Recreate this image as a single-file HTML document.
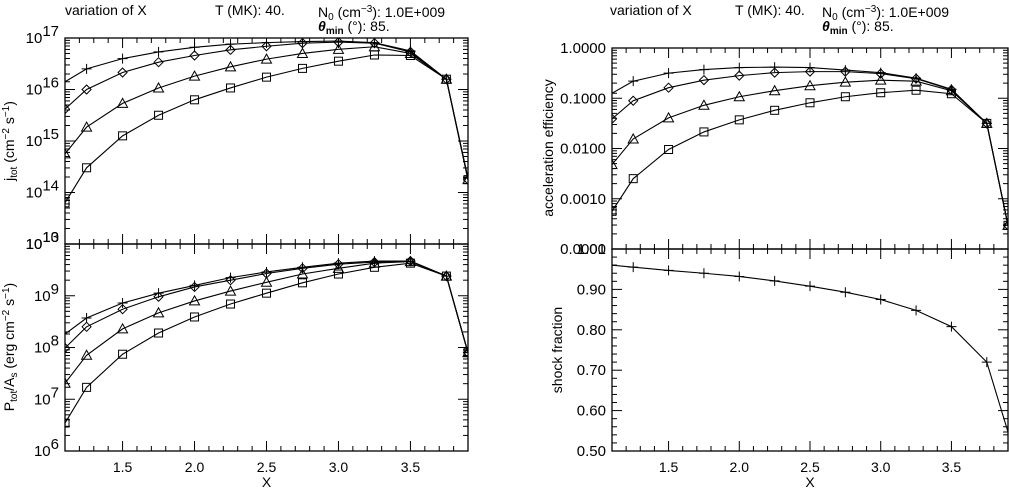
<!DOCTYPE html>
<html><head><meta charset="utf-8"><style>
html,body{margin:0;padding:0;background:#fff;}
svg{display:block;font-family:"Liberation Sans","DejaVu Sans",sans-serif;}
</style></head><body>
<svg id="c" width="1009" height="489" viewBox="0 0 1009 489" xmlns="http://www.w3.org/2000/svg"></svg>
<script>
const xVals=[1.1,1.25,1.5,1.75,2.0,2.25,2.5,2.75,3.0,3.25,3.5,3.75,3.9];
const xTicks=[1.5,2.0,2.5,3.0,3.5];
const markerKinds=['plus','diamond','triangle','square'];
// log10 values
const jPlus=[16.15,16.4,16.6,16.73,16.82,16.88,16.91,16.93,16.94,16.91,16.75,16.2,14.28];
const jDiamond=[15.62,16.0,16.33,16.53,16.66,16.77,16.84,16.9,16.92,16.9,16.73,16.2,14.25];
const jTriangle=[14.75,15.27,15.73,16.03,16.26,16.44,16.59,16.7,16.78,16.83,16.7,16.2,14.25];
const jSquare=[13.8,14.48,15.1,15.5,15.8,16.03,16.24,16.41,16.55,16.67,16.66,16.2,14.25];
const pPlus=[8.26,8.57,8.86,9.05,9.2,9.35,9.46,9.55,9.63,9.67,9.67,9.38,7.9];
const pDiamond=[7.99,8.4,8.74,8.98,9.17,9.3,9.43,9.53,9.61,9.65,9.67,9.38,7.9];
const pTriangle=[7.31,7.85,8.36,8.67,8.9,9.09,9.26,9.42,9.53,9.63,9.66,9.38,7.9];
const pSquare=[6.54,7.23,7.87,8.28,8.59,8.84,9.05,9.25,9.42,9.55,9.63,9.38,7.9];
const ePlus=[-0.9,-0.66,-0.5,-0.43,-0.39,-0.38,-0.39,-0.44,-0.49,-0.6,-0.82,-1.5,-3.53];
const eDiamond=[-1.41,-1.05,-0.79,-0.64,-0.55,-0.49,-0.47,-0.47,-0.51,-0.61,-0.83,-1.5,-3.53];
const eTriangle=[-2.32,-1.81,-1.39,-1.14,-0.97,-0.85,-0.75,-0.68,-0.64,-0.66,-0.85,-1.5,-3.53];
const eSquare=[-3.25,-2.6,-2.02,-1.67,-1.43,-1.24,-1.09,-0.97,-0.89,-0.84,-0.91,-1.5,-3.53];
const shock=[0.96,0.955,0.947,0.94,0.932,0.921,0.908,0.893,0.875,0.848,0.808,0.72,0.547];
const jTickLabels=['13','14','15','16','17'];
const pTickLabels=['6','7','8','9','10'];
const eTickLabels=['0.0001','0.0010','0.0100','0.1000','1.0000'];
const sTickLabels=['0.50','0.60','0.70','0.80','0.90','1.00'];

const NS='http://www.w3.org/2000/svg';
const svg=document.getElementById('c');
function el(t,a,p){const e=document.createElementNS(NS,t);for(const k in a)e.setAttribute(k,a[k]);(p||svg).appendChild(e);return e;}
function mk(x0,x1,y0,y1,lo,hi){return{x:v=>x0+(v-1.1)/(3.9-1.1)*(x1-x0),y:v=>y1-(v-lo)/(hi-lo)*(y1-y0),x0,x1,y0,y1,lo,hi};}

function frame(P,name,isLog,showX){
  const g=el('g',{});
  
  
  el('rect',{x:P.x0,y:P.y0,width:P.x1-P.x0,height:P.y1-P.y0,fill:'none',stroke:'#000','stroke-width':1.3},g);
  for(let v=1.1;v<=3.9001;v+=0.1){
    const vv=Math.round(v*10)/10;const maj=Math.abs(vv*2-Math.round(vv*2))<1e-6;
    const L=maj?10:5;const x=P.x(vv);
    el('line',{x1:x,x2:x,y1:P.y1,y2:P.y1-L,stroke:'#000'},g);
    el('line',{x1:x,x2:x,y1:P.y0,y2:P.y0+L,stroke:'#000'},g);
  }
  if(isLog){
    for(let d=P.lo;d<=P.hi;d++){
      for(let m=1;m<=9;m++){const v=d+Math.log10(m);if(v>P.hi+1e-9)break;const L=m==1?10:5;const y=P.y(v);
        el('line',{x1:P.x0,x2:P.x0+L,y1:y,y2:y,stroke:'#000'},g);
        el('line',{x1:P.x1,x2:P.x1-L,y1:y,y2:y,stroke:'#000'},g);}
    }
  } else {
    for(let v=0.5;v<=1.0001;v+=0.02){const vv=Math.round(v*100)/100;const maj=Math.abs(vv*10-Math.round(vv*10))<1e-6;const L=maj?10:5;const y=P.y(vv);
      el('line',{x1:P.x0,x2:P.x0+L,y1:y,y2:y,stroke:'#000'},g);
      el('line',{x1:P.x1,x2:P.x1-L,y1:y,y2:y,stroke:'#000'},g);}
  }
  if(showX){
    xTicks.forEach(t=>{const tx=el('text',{x:P.x(t),y:P.y1+21,'text-anchor':'middle','font-size':14},g);tx.textContent=t.toFixed(1);});
    const xl=el('text',{x:(P.x(2.5)),y:P.y1+36,'text-anchor':'middle','font-size':14},g);xl.textContent='X';
    
    
  }
}
function marker(g,kind,x,y){
  if(kind=='plus'){el('path',{d:`M${x-5},${y}h10M${x},${y-5}v10`,stroke:'#000',fill:'none'},g);}
  else if(kind=='diamond'){el('path',{d:`M${x},${y-4.5}L${x+4.5},${y}L${x},${y+4.5}L${x-4.5},${y}Z`,stroke:'#000',fill:'none'},g);}
  else if(kind=='triangle'){el('path',{d:`M${x},${y-5}L${x+5},${y+4}L${x-5},${y+4}Z`,stroke:'#000',fill:'none'},g);}
  else {el('rect',{x:x-4,y:y-4,width:8,height:8,stroke:'#000',fill:'none'},g);}
}
function series(P,vals,kind,name){
  const g=el('g',{});
  
  
  const cp='cp'+name;const clip=el('clipPath',{id:cp},g);el('rect',{x:P.x0,y:P.y0,width:P.x1-P.x0,height:P.y1-P.y0},clip);
  const inner=el('g',{'clip-path':`url(#${cp})`},g);
  el('polyline',{points:xVals.map((x,i)=>P.x(x)+','+P.y(vals[i])).join(' '),fill:'none',stroke:'#000','stroke-width':1.1},inner);
  xVals.forEach((x,i)=>marker(inner,kind,P.x(x),P.y(vals[i])));
}
function ylabLog(P,labels,base){
  labels.forEach((l,i)=>{const y=P.y(P.lo+i);
    const t=el('text',{x:P.x0-6,y:y+5,'text-anchor':'end','font-size':15});
    if(base){t.innerHTML=`10<tspan dy="-7" font-size="15">${l}</tspan>`;}else{t.textContent=l;}
  });
}
function title(x1,x2,x3){
  let t=el('text',{x:x1,y:15,'font-size':14});t.textContent='variation of X';
  t=el('text',{x:x2,y:15,'font-size':14});t.textContent='T (MK): 40.';
  t=el('text',{x:x3,y:17,'font-size':14});t.innerHTML='N<tspan dy="3" font-size="10">0</tspan><tspan dy="-3"> (cm</tspan><tspan dy="-5" font-size="10">−3</tspan><tspan dy="5">): 1.0E+009</tspan>';
  t=el('text',{x:x3,y:31,'font-size':14});t.innerHTML='<tspan font-style="italic" font-weight="bold">θ</tspan><tspan dy="3" font-size="10" font-weight="bold">min</tspan><tspan dy="-3"> (°): 85.</tspan>';
}
title(65,215,318);title(610,735,822);

const A=mk(65,468,38,244,13,17), B=mk(65,468,244,451,6,10);
const C=mk(612,1008,48,249,-4,0), D=mk(612,1008,249,451,0.5,1.0);
frame(A,'jtot-panel',true,false);frame(B,'ptot-panel',true,true);
frame(C,'efficiency-panel',true,false);frame(D,'shock-panel',false,true);
ylabLog(A,jTickLabels,true);ylabLog(B,pTickLabels,true);ylabLog(C,eTickLabels,false);
sTickLabels.forEach((l,i)=>{const t=el('text',{x:D.x0-6,y:D.y(0.5+i*0.1)+5,'text-anchor':'end','font-size':15});t.textContent=l;});
[[jPlus,jDiamond,jTriangle,jSquare,A,'jtot'],[pPlus,pDiamond,pTriangle,pSquare,B,'ptot'],[ePlus,eDiamond,eTriangle,eSquare,C,'eff']].forEach(r=>{
  for(let k=0;k<4;k++)series(r[4],r[k],markerKinds[k],r[5]+'-'+markerKinds[k]);
});
series(D,shock,'plus','shock-fraction-line');

let t=el('text',{transform:'translate(14,141) rotate(-90)','text-anchor':'middle','font-size':14});
t.innerHTML='j<tspan dy="3" font-size="10">tot</tspan><tspan dy="-3"> (cm</tspan><tspan dy="-5" font-size="10">−2</tspan><tspan dy="5"> s</tspan><tspan dy="-5" font-size="10">−1</tspan><tspan dy="5">)</tspan>';

t=el('text',{transform:'translate(14,347) rotate(-90)','text-anchor':'middle','font-size':14});
t.innerHTML='P<tspan dy="3" font-size="10">tot</tspan><tspan dy="-3">/A</tspan><tspan dy="3" font-size="10">s</tspan><tspan dy="-3"> (erg cm</tspan><tspan dy="-5" font-size="10">−2</tspan><tspan dy="5"> s</tspan><tspan dy="-5" font-size="10">−1</tspan><tspan dy="5">)</tspan>';

t=el('text',{transform:'translate(553,148) rotate(-90)','text-anchor':'middle','font-size':14});t.textContent='acceleration efficiency';

t=el('text',{transform:'translate(562,350) rotate(-90)','text-anchor':'middle','font-size':14});t.textContent='shock fraction';

</script>
</body></html>
